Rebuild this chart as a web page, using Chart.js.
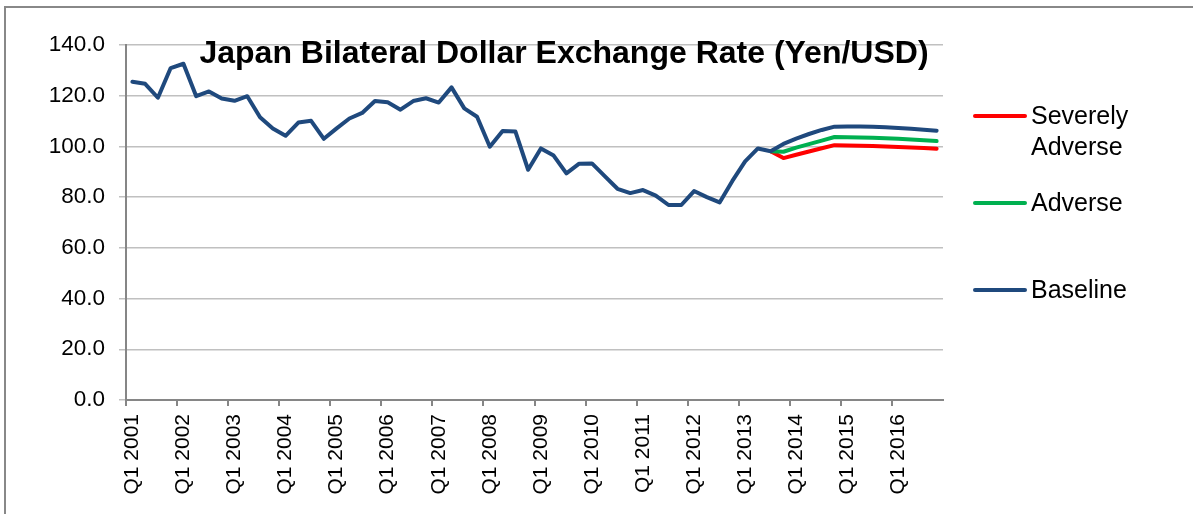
<!DOCTYPE html>
<html>
<head>
<meta charset="utf-8">
<script src="https://cdn.jsdelivr.net/npm/chart.js@4.4.1/dist/chart.umd.min.js"></script>
<style>
html,body{margin:0;padding:0;background:#fff;}
#wrap{width:1193px;height:514px;position:relative;}
</style>
</head>
<body>
<div id="wrap"><canvas id="c" width="1193" height="514"></canvas></div>
<script>
const chartTitle = 'Japan Bilateral Dollar Exchange Rate (Yen/USD)';

const quarters = [
  'Q1 2001','Q2 2001','Q3 2001','Q4 2001','Q1 2002','Q2 2002','Q3 2002','Q4 2002',
  'Q1 2003','Q2 2003','Q3 2003','Q4 2003','Q1 2004','Q2 2004','Q3 2004','Q4 2004',
  'Q1 2005','Q2 2005','Q3 2005','Q4 2005','Q1 2006','Q2 2006','Q3 2006','Q4 2006',
  'Q1 2007','Q2 2007','Q3 2007','Q4 2007','Q1 2008','Q2 2008','Q3 2008','Q4 2008',
  'Q1 2009','Q2 2009','Q3 2009','Q4 2009','Q1 2010','Q2 2010','Q3 2010','Q4 2010',
  'Q1 2011','Q2 2011','Q3 2011','Q4 2011','Q1 2012','Q2 2012','Q3 2012','Q4 2012',
  'Q1 2013','Q2 2013','Q3 2013','Q4 2013','Q1 2014','Q2 2014','Q3 2014','Q4 2014',
  'Q1 2015','Q2 2015','Q3 2015','Q4 2015','Q1 2016','Q2 2016','Q3 2016','Q4 2016'
];

// Baseline (history through Q3 2013, then baseline projection)
const baselineValues = [
  125.5, 124.7, 119.2, 130.9,
  132.6, 119.8, 121.7, 118.9,
  118.0, 119.8, 111.5, 107.1,
  104.2, 109.4, 110.1, 103.0,
  107.1, 111.0, 113.2, 117.9,
  117.4, 114.5, 117.9, 119.0,
  117.3, 123.3, 115.0, 111.7,
   99.9, 106.1, 105.9,  90.8,
   99.2,  96.4,  89.4,  93.2,
   93.3,  88.3,  83.3,  81.6,
   82.8,  80.6,  76.9,  76.9,
   82.4,  80.0,  77.9,  86.4,
   94.1,  99.2,  98.1, 101.0,
  103.1, 104.9, 106.5, 107.8,
  107.9, 107.9, 107.8, 107.6,
  107.3, 107.0, 106.6, 106.2
];

// Scenario paths start at the last historical quarter
const scenarioQuarters = [
  'Q3 2013','Q4 2013','Q1 2014','Q2 2014','Q3 2014','Q4 2014','Q1 2015',
  'Q2 2015','Q3 2015','Q4 2015','Q1 2016','Q2 2016','Q3 2016','Q4 2016'
];
const adverseValues = [98.1, 97.9, 99.5, 100.9, 102.3, 103.7, 103.6, 103.5, 103.4, 103.2, 103.0, 102.7, 102.4, 102.1];
const severelyAdverseValues = [98.1, 95.4, 96.7, 98.0, 99.3, 100.5, 100.4, 100.3, 100.2, 100.0, 99.8, 99.6, 99.4, 99.1];

const yTicks = [0, 20, 40, 60, 80, 100, 120, 140];

const seriesNames = ['Severely Adverse', 'Adverse', 'Baseline'];
const seriesColors = ['#FF0000', '#00B050', '#1F497D'];

const FONT = "'Liberation Sans', Arial, sans-serif";

function pairs(qs, vs) { return qs.map((q, i) => ({x: q, y: vs[i]})); }

const frame = {
  id: 'frame',
  beforeDraw(chart) {
    const c = chart.ctx;
    c.save();
    c.fillStyle = '#fff';
    c.fillRect(0, 0, chart.width, chart.height);
    c.strokeStyle = '#888888';
    c.lineWidth = 2;
    c.beginPath();
    c.moveTo(5, chart.height + 5);
    c.lineTo(5, 7);
    c.lineTo(chart.width + 5, 7);
    c.stroke();
    c.restore();
  },
  afterDraw(chart) {
    const c = chart.ctx;
    c.save();
    // title
    c.fillStyle = '#000';
    c.font = "bold 32px " + FONT;
    c.textAlign = 'center';
    c.textBaseline = 'alphabetic';
    c.fillText(chartTitle, 564, 63);
    // legend
    const order = [0, 1, 2];
    const ys = [116, 203, 290];
    c.font = "25px " + FONT;
    c.textAlign = 'left';
    c.textBaseline = 'middle';
    order.forEach((di, k) => {
      const ds = chart.data.datasets[di];
      c.strokeStyle = ds.borderColor;
      c.lineWidth = 4;
      c.lineCap = 'round';
      c.beginPath();
      c.moveTo(975, ys[k]);
      c.lineTo(1025, ys[k]);
      c.stroke();
      const words = ds.label.split(' ');
      let lines = [], cur = '';
      words.forEach(w => {
        const t = cur ? cur + ' ' + w : w;
        if (cur && c.measureText(t).width > 150) { lines.push(cur); cur = w; } else cur = t;
      });
      lines.push(cur);
      lines.forEach((ln, j) => c.fillText(ln, 1031, ys[k] + 1 + j * 31));
    });
    c.restore();
  }
};

new Chart(document.getElementById('c'), {
  type: 'line',
  data: {
    labels: quarters,
    datasets: [
      { label: seriesNames[0], data: pairs(scenarioQuarters, severelyAdverseValues), borderColor: seriesColors[0], order: 2 },
      { label: seriesNames[1], data: pairs(scenarioQuarters, adverseValues), borderColor: seriesColors[1], order: 1 },
      { label: seriesNames[2], data: baselineValues, borderColor: seriesColors[2], order: 0 }
    ].map(d => Object.assign(d, {
      borderWidth: 4, pointRadius: 0, pointHoverRadius: 0, tension: 0, fill: false,
      borderJoinStyle: 'round', borderCapStyle: 'round', spanGaps: false
    }))
  },
  options: {
    responsive: false,
    devicePixelRatio: 1,
    animation: false,
    events: [],
    layout: { padding: { left: 0, top: 45, right: 250, bottom: 0 } },
    plugins: { legend: { display: false }, title: { display: false }, tooltip: { enabled: false } },
    scales: {
      x: {
        type: 'category',
        offset: true,
        afterFit(s) { s.height = 114; },
        border: { display: true, color: '#868686', width: 2 },
        grid: {
          offset: true,
          drawOnChartArea: false,
          drawTicks: true,
          tickLength: 6,
          lineWidth: 2,
          color: ctx => (ctx.index % 4 === 0 ? '#868686' : 'rgba(0,0,0,0)')
        },
        ticks: {
          autoSkip: false,
          minRotation: 90,
          maxRotation: 90,
          padding: 8,
          color: '#000',
          font: { family: FONT, size: 21 },
          callback(v, i) { const q = quarters[i]; return q.startsWith('Q1') ? q : ''; }
        }
      },
      y: {
        min: 0,
        max: 140,
        afterFit(s) { s.width = 126; },
        afterBuildTicks(s) { s.ticks = yTicks.map(v => ({ value: v })); },
        border: { display: true, color: '#868686', width: 2 },
        grid: { color: '#C0C0C0', lineWidth: 1.5, tickLength: 7, drawTicks: true },
        ticks: {
          padding: 14,
          color: '#000',
          font: { family: FONT, size: 22.5 },
          callback: v => Number(v).toFixed(1)
        }
      }
    }
  },
  plugins: [frame]
});
</script>
</body>
</html>
